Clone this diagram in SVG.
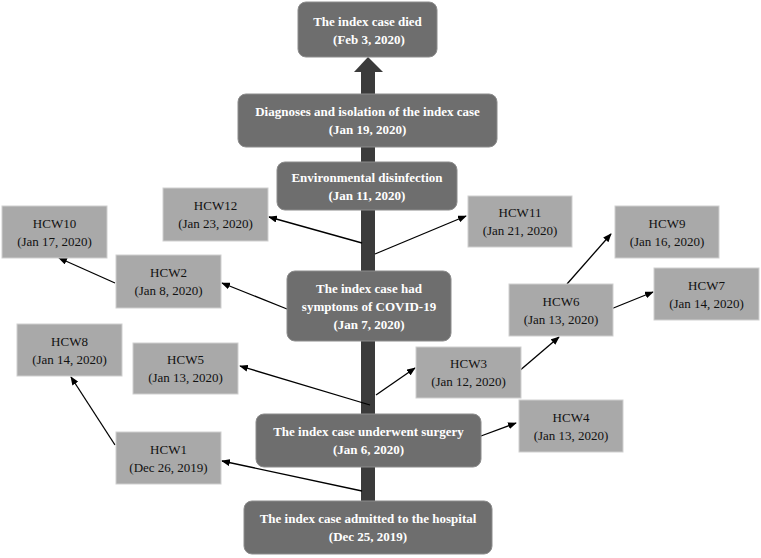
<svg xmlns="http://www.w3.org/2000/svg" width="761" height="558" viewBox="0 0 761 558">
<defs>
<style>
.ev{fill:#6e6e6e;stroke:#8c8c8c;stroke-width:1}
.hc{fill:#a9a9a9;stroke:#cfcfcf;stroke-width:1}
.evt{font-family:"Liberation Serif","Times New Roman",serif;font-weight:bold;font-size:13px;fill:#ffffff;text-anchor:middle}
.hct{font-family:"Liberation Serif","Times New Roman",serif;font-size:13px;fill:#111111;text-anchor:middle}
.ln{stroke:#000000;stroke-width:1.3;fill:none;marker-end:url(#ah)}
</style>
<marker id="ah" viewBox="0 0 10 8" refX="9" refY="4" markerWidth="9" markerHeight="7" markerUnits="userSpaceOnUse" orient="auto">
<path d="M0,0 L10,4 L0,8 Z" fill="#000000"/>
</marker>
</defs>
<rect width="761" height="558" fill="#ffffff"/>
<g id="connectors">
<rect x="361" y="70" width="14" height="432" fill="#3b3b3b"/>
<polygon points="354,72 368,57 383,72" fill="#3b3b3b"/>
<line class="ln" x1="362" y1="243" x2="269" y2="217"/>
<line class="ln" x1="375" y1="254" x2="466" y2="216"/>
<line class="ln" x1="115" y1="283" x2="59" y2="258"/>
<line class="ln" x1="287" y1="309" x2="222" y2="283"/>
<line class="ln" x1="567" y1="284" x2="611" y2="234"/>
<line class="ln" x1="611" y1="309" x2="653" y2="292"/>
<line class="ln" x1="518" y1="372" x2="559" y2="337"/>
<line class="ln" x1="370" y1="405" x2="240" y2="366"/>
<line class="ln" x1="376" y1="395" x2="415" y2="368"/>
<line class="ln" x1="115" y1="445" x2="71" y2="377"/>
<line class="ln" x1="362" y1="491" x2="222" y2="461"/>
<line class="ln" x1="481" y1="436" x2="516" y2="423"/>
</g>
<g id="died"><rect class="ev" x="298" y="2" width="139" height="55" rx="8"/><text class="evt" x="367.5" y="25.5">The index case died</text><text class="evt" x="369" y="43.5">(Feb 3, 2020)</text></g>
<g id="diagnoses"><rect class="ev" x="238" y="94" width="259" height="53" rx="8"/><text class="evt" x="367.5" y="116">Diagnoses and isolation of the index case</text><text class="evt" x="367.5" y="134">(Jan 19, 2020)</text></g>
<g id="disinfection"><rect class="ev" x="277" y="162" width="180" height="48" rx="8"/><text class="evt" x="367" y="181.5">Environmental disinfection</text><text class="evt" x="367" y="199.5">(Jan 11, 2020)</text></g>
<g id="symptoms"><rect class="ev" x="287" y="271" width="164" height="70" rx="8"/><text class="evt" x="369" y="292.5">The index case had</text><text class="evt" x="369" y="310.5">symptoms of COVID-19</text><text class="evt" x="369" y="328.5">(Jan 7, 2020)</text></g>
<g id="surgery"><rect class="ev" x="256" y="414" width="225" height="53" rx="8"/><text class="evt" x="368.5" y="436">The index case underwent surgery</text><text class="evt" x="368.5" y="454">(Jan 6, 2020)</text></g>
<g id="admitted"><rect class="ev" x="244" y="501" width="248" height="53" rx="8"/><text class="evt" x="368" y="523">The index case admitted to the hospital</text><text class="evt" x="368" y="541">(Dec 25, 2019)</text></g>
<g id="hcw12"><rect class="hc" x="163" y="188" width="105" height="53"/><text class="hct" x="215.5" y="210">HCW12</text><text class="hct" x="215.5" y="228">(Jan 23, 2020)</text></g>
<g id="hcw10"><rect class="hc" x="2" y="206" width="105" height="52"/><text class="hct" x="54.5" y="227.5">HCW10</text><text class="hct" x="54.5" y="245.5">(Jan 17, 2020)</text></g>
<g id="hcw2"><rect class="hc" x="116" y="255" width="105" height="53"/><text class="hct" x="168.5" y="277">HCW2</text><text class="hct" x="168.5" y="295">(Jan 8, 2020)</text></g>
<g id="hcw11"><rect class="hc" x="468" y="196" width="104" height="51"/><text class="hct" x="520" y="217">HCW11</text><text class="hct" x="520" y="235">(Jan 21, 2020)</text></g>
<g id="hcw9"><rect class="hc" x="615" y="206" width="104" height="52"/><text class="hct" x="667" y="227.5">HCW9</text><text class="hct" x="667" y="245.5">(Jan 16, 2020)</text></g>
<g id="hcw7"><rect class="hc" x="654" y="268" width="105" height="52"/><text class="hct" x="706.5" y="289.5">HCW7</text><text class="hct" x="706.5" y="307.5">(Jan 14, 2020)</text></g>
<g id="hcw6"><rect class="hc" x="509" y="284" width="104" height="52"/><text class="hct" x="561" y="305.5">HCW6</text><text class="hct" x="561" y="323.5">(Jan 13, 2020)</text></g>
<g id="hcw8"><rect class="hc" x="17" y="324" width="105" height="52"/><text class="hct" x="69.5" y="345.5">HCW8</text><text class="hct" x="69.5" y="363.5">(Jan 14, 2020)</text></g>
<g id="hcw5"><rect class="hc" x="133" y="343" width="105" height="51"/><text class="hct" x="185.5" y="364">HCW5</text><text class="hct" x="185.5" y="382">(Jan 13, 2020)</text></g>
<g id="hcw3"><rect class="hc" x="416" y="347" width="105" height="51"/><text class="hct" x="468.5" y="368">HCW3</text><text class="hct" x="468.5" y="386">(Jan 12, 2020)</text></g>
<g id="hcw4"><rect class="hc" x="519" y="400" width="104" height="52"/><text class="hct" x="571" y="421.5">HCW4</text><text class="hct" x="571" y="439.5">(Jan 13, 2020)</text></g>
<g id="hcw1"><rect class="hc" x="116" y="432" width="105" height="52"/><text class="hct" x="168.5" y="453.5">HCW1</text><text class="hct" x="168.5" y="471.5">(Dec 26, 2019)</text></g>
</svg>
